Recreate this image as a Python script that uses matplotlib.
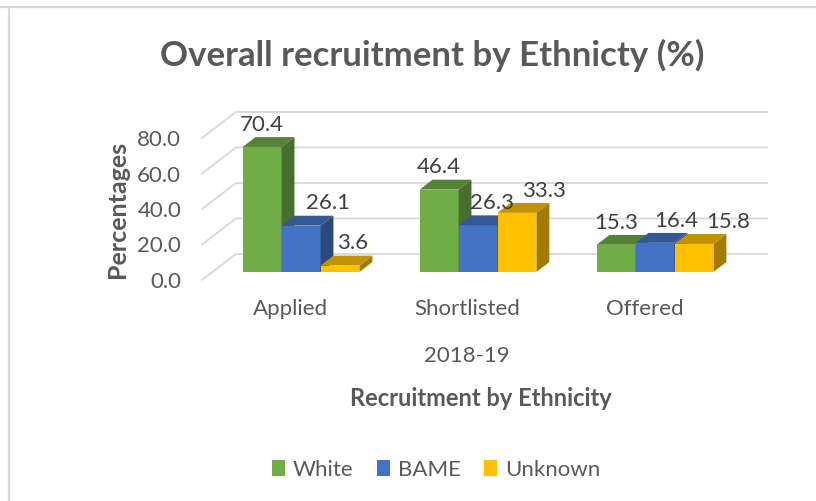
import matplotlib.pyplot as plt
import matplotlib.colors as mcolors
from matplotlib.patches import Polygon, Patch
from matplotlib.lines import Line2D

# data
categories = ['Applied', 'Shortlisted', 'Offered']
series = ['White', 'BAME', 'Unknown']
white = [70.4, 46.4, 15.3]
bame = [26.1, 26.3, 16.4]
unknown = [3.6, 33.3, 15.8]
yticks = [0, 20, 40, 60, 80]
period = '2018-19'

colors = ['#70AD47', '#4472C4', '#FFC000']
# sideways nudges of the data labels (category units), like Excel does to avoid overlap
label_nudge = [[0.0, 0.0, 0.0],
               [0.15, 0.08, 0.12],
               [0.07, 0.15, 0.195]]

plt.rcParams['font.family'] = ['Lato', 'DejaVu Sans']
text_grey = '#595959'
label_grey = '#404040'
grid_grey = '#D9D9D9'

W, H = 816, 501
fig = plt.figure(figsize=(W / 100, H / 100), dpi=100)
ax = fig.add_axes([202 / W, (H - 280) / H, 531 / W, 142 / H])
ax.set_xlim(-0.5, 2.5)
ax.set_ylim(0, 80)

# fake 3d: full floor depth in data units, bars sit between d0 and d1
depth_x = 0.192
depth_y = 14.65
d0, d1 = 0.31, 0.69
bar_w = 0.22


def shade(c, f):
    r, g, b = mcolors.to_rgb(c)
    return (r * f, g * f, b * f)


# back wall grid + left wall diagonals
for t in yticks:
    ax.plot([-0.5, -0.5 + depth_x, 2.5 + depth_x], [t, t + depth_y, t + depth_y],
            color=grid_grey, lw=1.3, clip_on=False, zorder=1)

ddx = (d1 - d0) * depth_x
ddy = (d1 - d0) * depth_y
base = d0 * depth_y

for j, vals in enumerate([white, bame, unknown]):
    xs = [i + (j - 1) * bar_w + d0 * depth_x for i in range(len(categories))]
    ax.bar(xs, vals, width=bar_w, bottom=base, color=colors[j], zorder=3 + j,
           clip_on=False, label=series[j])
    for i, (x, v) in enumerate(zip(xs, vals)):
        xl, xr = x - bar_w / 2, x + bar_w / 2
        top = base + v
        side = Polygon([(xr, base), (xr + ddx, base + ddy), (xr + ddx, top + ddy), (xr, top)],
                       closed=True, facecolor=shade(colors[j], 0.64), edgecolor='none',
                       zorder=3 + j, clip_on=False)
        lid = Polygon([(xl, top), (xr, top), (xr + ddx, top + ddy), (xl + ddx, top + ddy)],
                      closed=True, facecolor=shade(colors[j], 0.76), edgecolor='none',
                      zorder=3 + j, clip_on=False)
        ax.add_patch(side)
        ax.add_patch(lid)
        ax.text(x + label_nudge[j][i], top + 12.5, f'{v:.1f}', ha='center', va='center',
                fontsize=16, color=label_grey, zorder=10)

ax.set_yticks(yticks, [f'{t:.1f}' for t in yticks])
ax.set_xticks(range(len(categories)), categories)
ax.tick_params(axis='y', length=0, pad=15, labelsize=16, labelcolor=text_grey)
ax.tick_params(axis='x', length=0, pad=14, labelsize=16, labelcolor=text_grey)
for s in ax.spines.values():
    s.set_visible(False)
ax.patch.set_visible(False)

ax.set_ylabel('Percentages', fontsize=18, fontweight='bold', color=text_grey)
ax.yaxis.set_label_coords(-0.137, 0.5)

fig.text(432 / W, 1 - 55 / H, 'Overall recruitment by Ethnicty (%)', ha='center', va='center',
         fontsize=25, fontweight='bold', color=text_grey)
fig.text(467 / W, 1 - 356 / H, period, ha='center', va='center', fontsize=16, color=text_grey)
fig.text(481 / W, 1 - 398 / H, 'Recruitment by Ethnicity', ha='center', va='center',
         fontsize=17, fontweight='bold', color=text_grey)

handles = [Patch(facecolor=c, edgecolor='none') for c in colors]
fig.legend(handles, series, loc='center', bbox_to_anchor=(436 / W, 1 - 470 / H), ncol=3,
           frameon=False, handlelength=0.6, handleheight=0.7, handletextpad=0.35,
           columnspacing=1.05, fontsize=16, labelcolor=text_grey)

# outer border bits of the original screenshot
fig.add_artist(Line2D([0, 1], [1 - 7 / H, 1 - 7 / H], color=grid_grey, lw=1.6))
fig.add_artist(Line2D([9 / W, 9 / W], [0, 1 - 7 / H], color=grid_grey, lw=1.6))

fig.savefig('out.png', dpi=100)
